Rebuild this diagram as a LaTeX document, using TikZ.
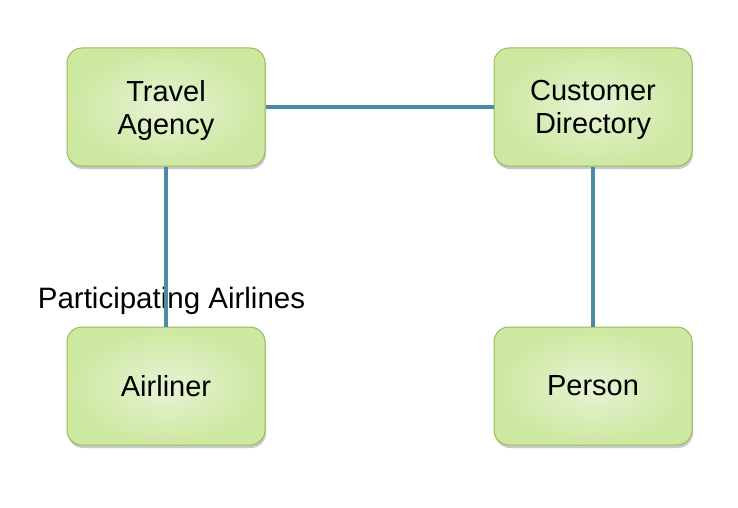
\documentclass[tikz,border=0pt]{standalone}
\usepackage{fontspec}
\setmainfont{Liberation Sans}
\usetikzlibrary{shadows}
\definecolor{boxfill}{RGB}{230,243,212}
\definecolor{boxedge}{RGB}{205,232,160}
\definecolor{boxline}{RGB}{155,187,89}
\definecolor{linkblue}{RGB}{74,140,166}
\begin{document}
\begin{tikzpicture}[x=1pt,y=-1pt,
    entity/.style={draw=boxline,line width=1pt,rounded corners=15pt,
      minimum width=198pt,minimum height=118pt,align=center,text depth=0pt,
      inner color=boxfill,outer color=boxedge,
      font=\fontsize{29}{33}\selectfont,
      drop shadow={shadow xshift=1pt,shadow yshift=-3pt,opacity=0.35,fill=black!60}},
    link/.style={draw=linkblue,line width=3.2pt}]
      \useasboundingbox (0,0) rectangle (738,508);
      \node[entity] (agency) at (166,107) {Travel\\Agency};
      \node[entity] (directory) at (593,107) {Customer\\Directory};
      \node[entity] (airliner) at (166,386) {Airliner};
      \node[entity] (person) at (593,386) {Person};
      \node[font=\fontsize{29.5}{33}\selectfont] (airlines) at (171.5,301) {Participating Airlines};
      \draw[link] (agency) -- (directory);
      \draw[link] (agency) -- (airliner);
      \draw[link] (directory) -- (person);
    \end{tikzpicture}
\end{document}
